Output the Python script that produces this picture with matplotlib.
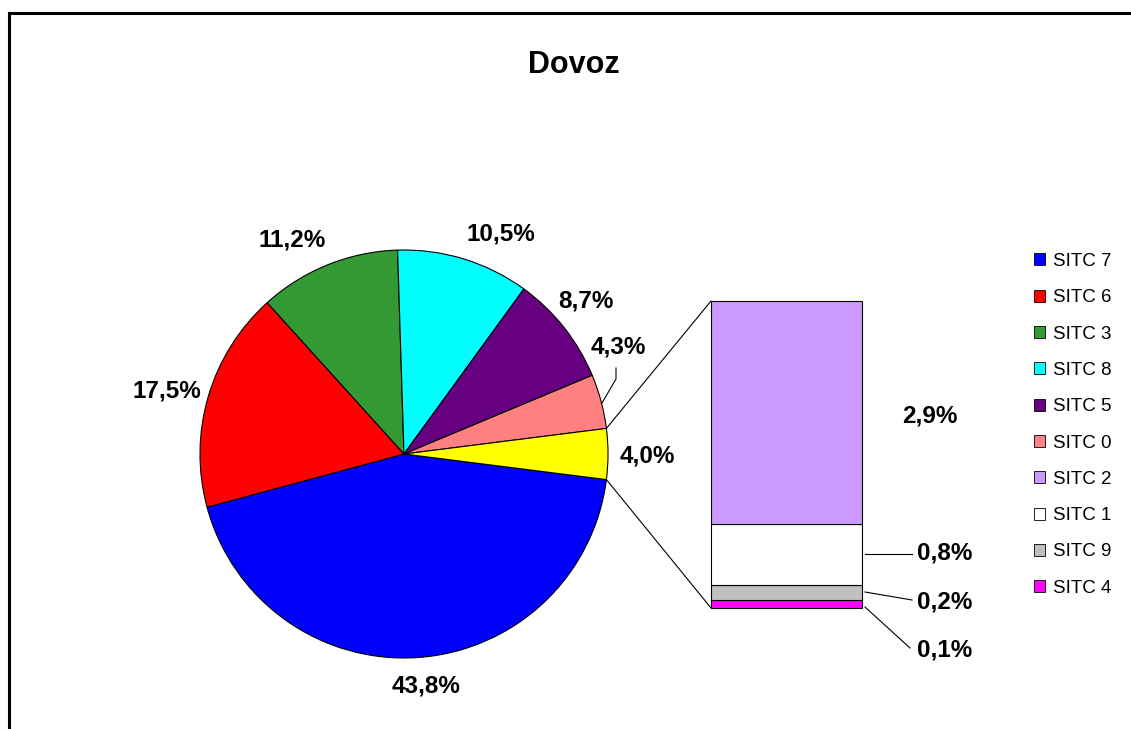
import numpy as np
import matplotlib
matplotlib.use("Agg")
import matplotlib.pyplot as plt
from matplotlib.patches import ConnectionPatch, Patch
from matplotlib.lines import Line2D

# ---- data ----
title = "Dovoz"
pie_labels = ["SITC 7", "SITC 6", "SITC 3", "SITC 8", "SITC 5", "SITC 0"]
pie_values = [43.8, 17.5, 11.2, 10.5, 8.7, 4.3]
pie_colors = ["#0000FF", "#FF0000", "#339933", "#00FFFF", "#660080", "#FF8080"]
other_color = "#FFFF00"
bar_labels = ["SITC 2", "SITC 1", "SITC 9", "SITC 4"]
bar_values = [2.9, 0.8, 0.2, 0.1]
bar_colors = ["#CC99FF", "#FFFFFF", "#C0C0C0", "#FF00FF"]

other_value = round(sum(bar_values), 1)

W, H = 1131, 729
plt.rcParams["font.family"] = ["Liberation Sans", "DejaVu Sans"]
fig = plt.figure(figsize=(W / 100, H / 100), dpi=100)
fig.patch.set_facecolor("white")

def fx(x):
    return x / W

def fy(y):
    return 1 - y / H

def fmt(v):
    return f"{v:.1f}".replace(".", ",") + "%"

# ---- frame (open to the right / bottom) ----
fig.add_artist(Line2D([fx(9), fx(9)], [fy(13), fy(740)], color="black", lw=2.2,
                      transform=fig.transFigure, solid_capstyle="projecting"))
fig.add_artist(Line2D([fx(9), fx(1140)], [fy(13), fy(13)], color="black", lw=2.2,
                      transform=fig.transFigure, solid_capstyle="projecting"))

# ---- pie ----
cx, cy, r = 404, 454, 204
pad = 1.05
ax_pie = fig.add_axes([fx(cx - r * pad), fy(cy + r * pad), 2 * r * pad / W, 2 * r * pad / H])
vals = pie_values + [other_value]
cols = pie_colors + [other_color]
startangle = -360 * (other_value / 100) / 2
wedges, _ = ax_pie.pie(vals, colors=cols, startangle=startangle, counterclock=False,
                       radius=1, wedgeprops=dict(edgecolor="black", linewidth=0.8))
ax_pie.set_xlim(-pad, pad)
ax_pie.set_ylim(-pad, pad)
ax_pie.set_aspect("equal")
ax_pie.axis("off")

# ---- bar ----
bx0, bx1, by0, by1 = 711, 862, 301, 608
ax_bar = fig.add_axes([fx(bx0), fy(by1), (bx1 - bx0) / W, (by1 - by0) / H])
bottom = 0.0
for lab, v, c in zip(reversed(bar_labels), reversed(bar_values), reversed(bar_colors)):
    ax_bar.bar(0, v, width=1.0, bottom=bottom, color=c, edgecolor="black",
               linewidth=0.8, clip_on=False)
    bottom += v
ax_bar.set_xlim(-0.5, 0.5)
ax_bar.set_ylim(0, other_value)
ax_bar.axis("off")

# ---- connector lines ----
yw = wedges[-1]
t_hi = np.deg2rad(max(yw.theta1, yw.theta2))
t_lo = np.deg2rad(min(yw.theta1, yw.theta2))
for t, yb in [(t_hi, other_value), (t_lo, 0)]:
    con = ConnectionPatch(xyA=(np.cos(t), np.sin(t)), coordsA=ax_pie.transData,
                          xyB=(-0.5, yb), coordsB=ax_bar.transData,
                          color="black", lw=0.8)
    fig.add_artist(con)

# ---- labels ----
lab_fs = 17.5
pie_label_pos = [(426, 686), (167, 391), (292, 240), (501, 234), (586, 301), (618, 347)]
for v, (x, y) in zip(pie_values, pie_label_pos):
    fig.text(fx(x), fy(y), fmt(v), ha="center", va="center", fontsize=lab_fs, fontweight="bold")
fig.text(fx(647), fy(456), fmt(other_value), ha="center", va="center", fontsize=lab_fs,
         fontweight="bold")

bar_label_pos = [(930, 416), (945, 553), (945, 602), (945, 650)]
for v, (x, y) in zip(bar_values, bar_label_pos):
    fig.text(fx(x), fy(y), fmt(v), ha="center", va="center", fontsize=lab_fs, fontweight="bold")

# leader lines
leaders = [
    [(616, 368), (616, 379), (602, 403)],
    [(865, 554), (912, 554)],
    [(865, 592), (912, 600)],
    [(865, 607), (910, 648)],
]
for pts in leaders:
    xs = [fx(p[0]) for p in pts]
    ys = [fy(p[1]) for p in pts]
    fig.add_artist(Line2D(xs, ys, color="black", lw=0.8, transform=fig.transFigure))

# ---- title ----
fig.text(fx(574), fy(65), title, ha="center", va="center", fontsize=22, fontweight="bold")

# ---- legend ----
handles = [Patch(facecolor=c, edgecolor="black", linewidth=0.6)
           for c in pie_colors + bar_colors]
leg = fig.legend(handles, pie_labels + bar_labels, loc="upper left",
                 bbox_to_anchor=(fx(1034), fy(253)), frameon=False,
                 fontsize=13.5, handlelength=0.6, handleheight=0.6,
                 handletextpad=0.4, labelspacing=1.03, borderpad=0, borderaxespad=0)

fig.savefig("out.png", dpi=100, facecolor="white")
